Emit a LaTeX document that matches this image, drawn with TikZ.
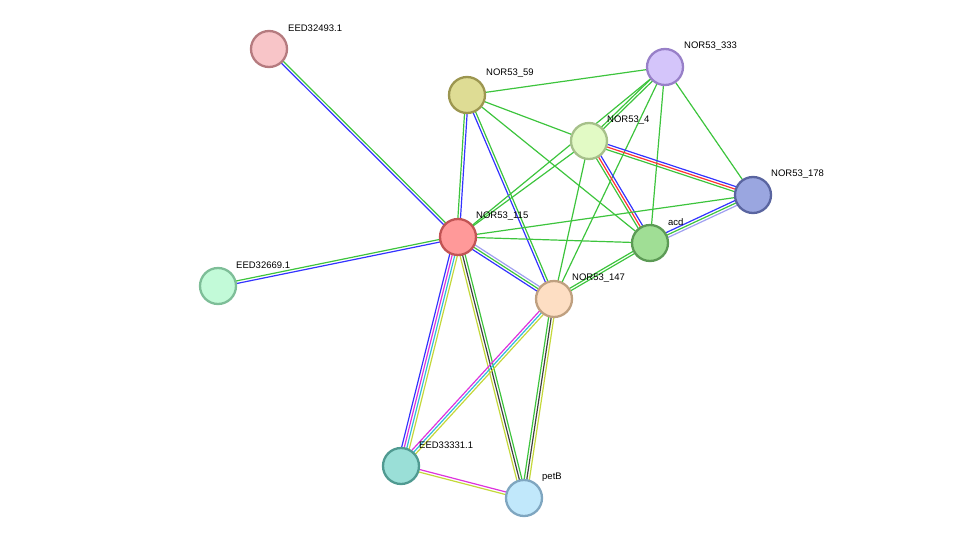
\documentclass[tikz,border=0pt]{standalone}
\usepackage{fontspec}
\setmainfont{Liberation Sans}
\usetikzlibrary{calc}
\definecolor{eg}{HTML}{3DC43D}
\definecolor{eb}{HTML}{3333FF}
\definecolor{er}{HTML}{FF3333}
\definecolor{el}{HTML}{A0A0F0}
\definecolor{ey}{HTML}{C4D83A}
\definecolor{ec}{HTML}{33BBDD}
\definecolor{em}{HTML}{DD33DD}
\definecolor{ek}{HTML}{404040}
\definecolor{fA}{HTML}{F8C5C8}\definecolor{dA}{HTML}{B57B7F}
\definecolor{fB}{HTML}{D4C5FA}\definecolor{dB}{HTML}{9880C8}
\definecolor{fC}{HTML}{DEDC94}\definecolor{dC}{HTML}{9C9650}
\definecolor{fD}{HTML}{E2FAC5}\definecolor{dD}{HTML}{A6C08A}
\definecolor{fE}{HTML}{9AA6E0}\definecolor{dE}{HTML}{5A65A0}
\definecolor{fF}{HTML}{FF9999}\definecolor{dF}{HTML}{C25454}
\definecolor{fG}{HTML}{A0DE95}\definecolor{dG}{HTML}{5C9A55}
\definecolor{fH}{HTML}{C2FAD8}\definecolor{dH}{HTML}{7EBE98}
\definecolor{fI}{HTML}{FDDEC3}\definecolor{dI}{HTML}{BFA080}
\definecolor{fJ}{HTML}{9ADFD7}\definecolor{dJ}{HTML}{509A91}
\definecolor{fK}{HTML}{C1E8FB}\definecolor{dK}{HTML}{7FA6C0}
\newcommand\stredge[4]{%
  \foreach \c [count=\i] in {#4} {%
    \pgfmathsetmacro\o{(\i-(#3+1)/2)*2.6}
    \draw[\c, line width=1.2pt] ($(#1)!\o pt!90:(#2)$) -- ($(#2)!\o pt!-90:(#1)$);
  }}
\tikzset{
  prot/.style={circle, minimum size=36pt, inner sep=0pt, line width=2.3pt},
  lab/.style={anchor=west, font=\fontsize{9.5pt}{11pt}\selectfont, inner sep=1pt}
}
\begin{document}
\begin{tikzpicture}[x=1pt,y=-1pt]
\useasboundingbox (0,0) rectangle (975,544);
\coordinate (e93) at (269,49);
\coordinate (n333) at (665,67);
\coordinate (n59) at (467,95);
\coordinate (n4) at (589,141);
\coordinate (n178) at (753,195);
\coordinate (n115) at (458,237);
\coordinate (acd) at (650,243);
\coordinate (e69) at (218,286);
\coordinate (n147) at (554,299);
\coordinate (e31) at (401,466);
\coordinate (petB) at (524,498);
% edges
\stredge{n59}{n333}{1}{eg}
\stredge{n59}{n4}{1}{eg}
\stredge{n59}{acd}{1}{eg}
\stredge{n59}{n115}{2}{eg,eb}
\stredge{n59}{n147}{2}{eb,eg}
\stredge{n333}{n4}{2}{eg,eg}
\stredge{n333}{n115}{1}{eg}
\stredge{n333}{n147}{1}{eg}
\stredge{n333}{acd}{1}{eg}
\stredge{n333}{n178}{1}{eg}
\stredge{n4}{n178}{3}{eg,er,eb}
\stredge{n4}{acd}{3}{eg,er,eb}
\stredge{n4}{n147}{1}{eg}
\stredge{n4}{n115}{1}{eg}
\stredge{n115}{n178}{1}{eg}
\stredge{n115}{acd}{1}{eg}
\stredge{n115}{n147}{3}{eb,eg,el}
\stredge{n115}{e93}{2}{eg,eb}
\stredge{n115}{e69}{2}{eg,eb}
\stredge{n115}{e31}{4}{eb,em,ec,ey}
\stredge{n115}{petB}{3}{ey,ek,eg}
\stredge{n147}{acd}{2}{eg,eg}
\stredge{n147}{e31}{3}{em,ec,ey}
\stredge{n147}{petB}{3}{eg,ek,ey}
\stredge{acd}{n178}{3}{el,eg,eb}
\stredge{e31}{petB}{2}{ey,em}
% nodes
\node[prot, fill=fA, draw=dA] (N93) at (e93) {};
\node[prot, fill=fB, draw=dB] (N333) at (n333) {};
\node[prot, fill=fC, draw=dC] (N59) at (n59) {};
\node[prot, fill=fD, draw=dD] (N4) at (n4) {};
\node[prot, fill=fE, draw=dE] (N178) at (n178) {};
\node[prot, fill=fF, draw=dF] (N115) at (n115) {};
\node[prot, fill=fG, draw=dG] (Nacd) at (acd) {};
\node[prot, fill=fH, draw=dH] (N69) at (e69) {};
\node[prot, fill=fI, draw=dI] (N147) at (n147) {};
\node[prot, fill=fJ, draw=dJ] (N31) at (e31) {};
\node[prot, fill=fK, draw=dK] (NpetB) at (petB) {};
% labels
\node[lab] (L93) at ($(e93)+(18,-21)$) {EED32493.1};
\node[lab] (L333) at ($(n333)+(18,-21)$) {NOR53\_333};
\node[lab] (L59) at ($(n59)+(18,-22)$) {NOR53\_59};
\node[lab] (L4) at ($(n4)+(17,-21)$) {NOR53\_4};
\node[lab] (L178) at ($(n178)+(17,-21)$) {NOR53\_178};
\node[lab] (L115) at ($(n115)+(17,-21)$) {NOR53\_115};
\node[lab] (Lacd) at ($(acd)+(17,-21)$) {acd};
\node[lab] (L69) at ($(e69)+(17,-21)$) {EED32669.1};
\node[lab] (L147) at ($(n147)+(17,-21)$) {NOR53\_147};
\node[lab] (L31) at ($(e31)+(17,-21)$) {EED33331.1};
\node[lab] (LpetB) at ($(petB)+(17,-21)$) {petB};
\end{tikzpicture}
\end{document}
